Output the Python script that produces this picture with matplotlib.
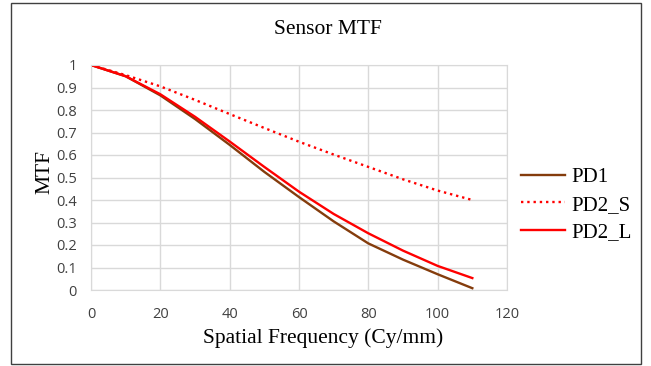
import matplotlib.pyplot as plt
from matplotlib.patches import Rectangle

# spatial frequency (Cy/mm)
freq = [0, 10, 20, 30, 40, 50, 60, 70, 80, 90, 100, 110]
# MTF curves
pd1 = [1.0, 0.95, 0.865, 0.76, 0.645, 0.525, 0.413, 0.305, 0.207, 0.135, 0.07, 0.008]
pd2_s = [1.0, 0.955, 0.905, 0.845, 0.782, 0.72, 0.659, 0.602, 0.547, 0.492, 0.442, 0.40]
pd2_l = [1.0, 0.95, 0.87, 0.77, 0.66, 0.547, 0.437, 0.338, 0.252, 0.175, 0.107, 0.053]

xticks = [0, 20, 40, 60, 80, 100, 120]
yticks = [0, 0.1, 0.2, 0.3, 0.4, 0.5, 0.6, 0.7, 0.8, 0.9, 1]
ytick_labels = ['0', '0.1', '0.2', '0.3', '0.4', '0.5', '0.6', '0.7', '0.8', '0.9', '1']

serif = ['Liberation Serif', 'DejaVu Serif']
sans = ['Open Sans', 'DejaVu Sans']

W, H = 651, 366
fig = plt.figure(figsize=(W / 100, H / 100), dpi=100)
# outer frame of the chart
fig.patches.append(Rectangle((11 / W, 2 / H), 630 / W, 361 / H, transform=fig.transFigure,
                             fill=False, edgecolor='#404040', linewidth=1.0))

ax = fig.add_axes([91 / W, 1 - 290 / H, 416 / W, 225 / H])
ax.plot(freq, pd1, color='#843C0C', lw=1.7, label='PD1')
ax.plot(freq, pd2_s, color='#FF0000', lw=1.7, ls=':', label='PD2_S')
ax.plot(freq, pd2_l, color='#FF0000', lw=1.7, label='PD2_L')

ax.set_xlim(0, 120)
ax.set_ylim(0, 1)
ax.set_xticks(xticks)
ax.set_yticks(yticks)
ax.set_yticklabels(ytick_labels)
ax.grid(True, color='#d9d9d9', lw=1.0)
ax.set_axisbelow(True)
for s in ax.spines.values():
    s.set_color('#d9d9d9')
ax.tick_params(axis='y', length=0, labelsize=10.5, colors='#404040', pad=10)
ax.tick_params(axis='x', length=0, labelsize=10.5, colors='#404040', pad=12)
for lab in ax.get_xticklabels() + ax.get_yticklabels():
    lab.set_family(sans)

fig.text(328 / W, 1 - 29 / H, 'Sensor MTF', family=serif, fontsize=15.5, ha='center', va='center')
fig.text(323 / W, 1 - 338 / H, 'Spatial Frequency (Cy/mm)', family=serif, fontsize=15.5,
         ha='center', va='center')
fig.text(45 / W, 1 - 172 / H, 'MTF', family=serif, fontsize=15.5, rotation=90,
         ha='center', va='center')

leg = ax.legend(loc='center left', bbox_to_anchor=(521 / W, 1 - 205 / H),
                bbox_transform=fig.transFigure, frameon=False, borderpad=0, borderaxespad=0,
                prop={'family': serif, 'size': 15}, handlelength=2.1, handletextpad=0.3,
                labelspacing=0.37)

fig.savefig('out.png', dpi=100)
